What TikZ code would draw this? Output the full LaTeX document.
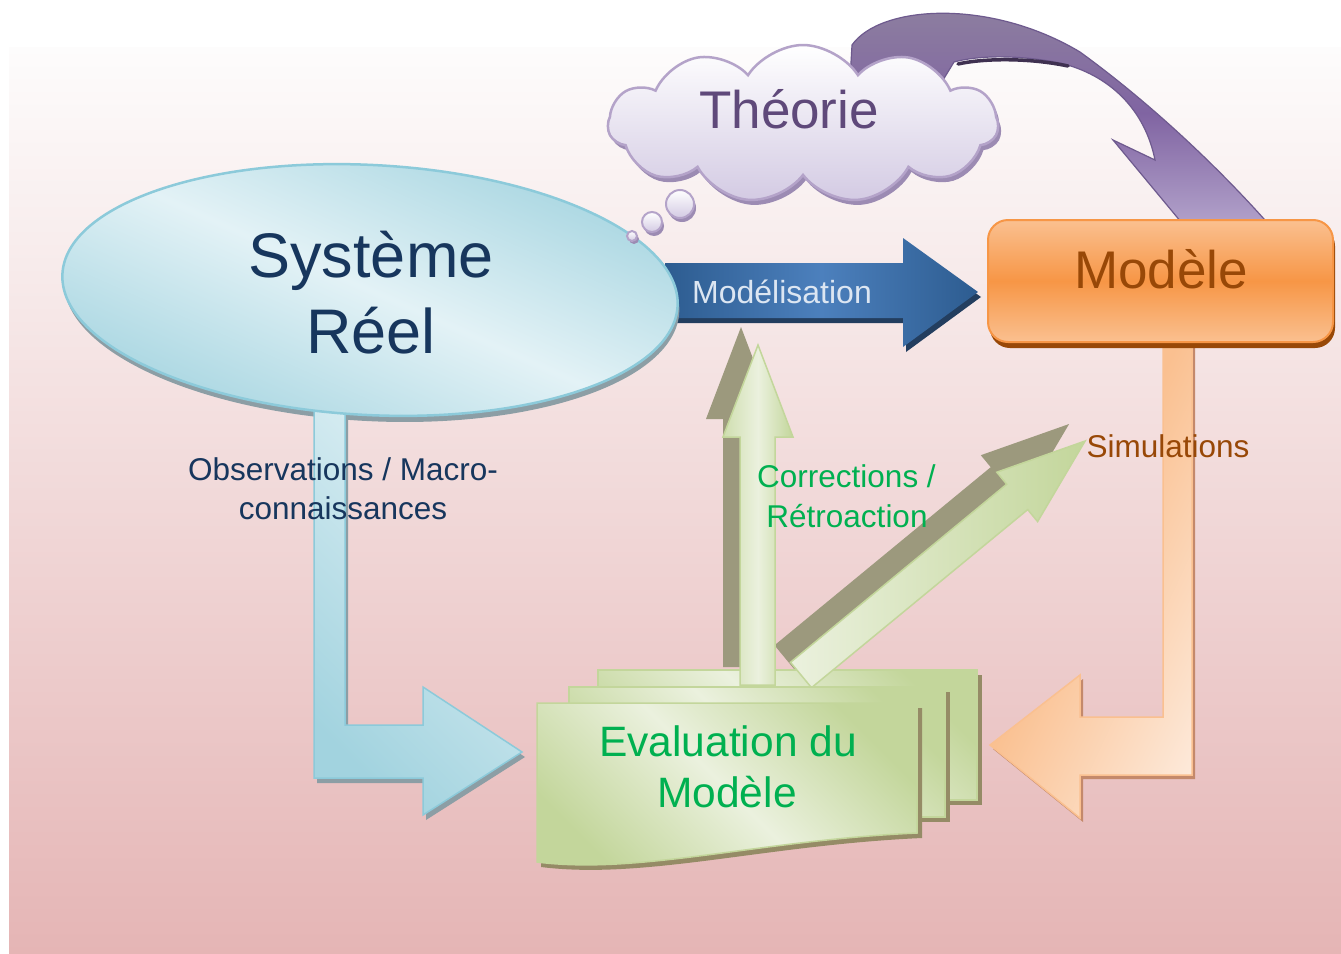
\documentclass[tikz,border=0pt]{standalone}
\usepackage{fontspec}
\setmainfont{Liberation Sans}
\usetikzlibrary{shapes.symbols}
\definecolor{bgtop}{HTML}{FDFCFC}
\definecolor{bgbot}{HTML}{E5B5B5}
\definecolor{purpTop}{HTML}{8E819F}
\definecolor{purpMid}{HTML}{8064A2}
\definecolor{purpBot}{HTML}{B3A3CB}
\definecolor{purpBorder}{HTML}{6E5A8E}
\definecolor{purpDark}{HTML}{3F3151}
\definecolor{blueArrDark}{HTML}{2D5C90}
\definecolor{blueArrLight}{HTML}{4C80BD}
\definecolor{blueArrShadow}{HTML}{233E5F}
\definecolor{ellDark}{HTML}{A2D3DF}
\definecolor{ellLight}{HTML}{E3F2F6}
\definecolor{ellBorder}{HTML}{8CCADA}
\definecolor{ellShadow}{HTML}{8C9EA5}
\definecolor{cloudBot}{HTML}{D3CAE3}
\definecolor{cloudBorder}{HTML}{B4A3C9}
\definecolor{cloudShadow}{HTML}{9C8BB3}
\definecolor{oranDark}{HTML}{FAC090}
\definecolor{oranLight}{HTML}{FDEBDD}
\definecolor{oranShadow}{HTML}{C4896B}
\definecolor{boxLight}{HTML}{FAC090}
\definecolor{boxMid}{HTML}{F79646}
\definecolor{boxShadow}{HTML}{984807}
\definecolor{grnDark}{HTML}{C3D69B}
\definecolor{grnLight}{HTML}{EBF1DE}
\definecolor{grnShadow}{HTML}{958B66}
\definecolor{grnArrShadow}{HTML}{9C997D}
\definecolor{textNavy}{HTML}{17365D}
\definecolor{textPurple}{HTML}{5F497A}
\definecolor{textBrown}{HTML}{984807}
\definecolor{textGreen}{HTML}{00B050}
\definecolor{textModel}{HTML}{DCE6F2}
\begin{document}
\begin{tikzpicture}[x=1pt,y=-1pt,
  txt/.style={inner sep=0pt,outer sep=0pt,anchor=base},
  fs/.style={font=\fontsize{#1}{#1}\selectfont},
  sheet/.style={draw=grnDark,line width=1.5pt,top color=grnDark,bottom color=grnDark,middle color=grnLight,shading angle=-45},
  sheetshadow/.style={fill=grnShadow},
  greenarrow/.style={draw=grnDark,line width=1.5pt},
  bubble/.style={draw=cloudBorder,line width=2pt,top color=white,bottom color=cloudBot},
  bubbleshadow/.style={fill=cloudShadow}]
\useasboundingbox (0,0) rectangle (1341,953);
\fill[white] (0,0) rectangle (1341,953);
\shade[top color=bgtop,bottom color=bgbot] (9,47) rectangle (1341,953);

% purple curved arrow (Theorie -> Modele)
\path[draw=purpBorder,line width=1.2pt,top color=purpTop,bottom color=purpBot,middle color=purpMid]
  (850,80) -- (852,45) .. controls (880,5) and (990,-2) .. (1080,52)
  .. controls (1160,110) and (1230,180) .. (1272,228) -- (1186,228) -- (1113,140) -- (1155,160)
  .. controls (1145,110) and (1110,75) .. (1060,63) .. controls (1020,55) and (980,55) .. (954,62)
  -- (940,85) -- cycle;
\draw[purpDark,line width=3.5pt,line cap=round] (958,64) .. controls (985,58) and (1030,58) .. (1068,66);

% Modelisation arrow
\fill[blueArrShadow] (668,268) -- (906,268) -- (906,243) -- (981,297) -- (906,352) -- (906,323) -- (668,323) -- cycle;
\path[left color=blueArrDark,right color=blueArrDark,middle color=blueArrLight]
  (665,263) -- (903,263) -- (903,238) -- (978,292) -- (903,347) -- (903,318) -- (665,318) -- cycle;

% ellipse shadow
\fill[ellShadow,rotate around={-3:(370,290)}] (372,296) ellipse [x radius=308pt,y radius=125pt];

% blue L arrow
\fill[ellShadow] (317,405) -- (348,405) -- (348,730) -- (426,730) -- (426,692) -- (525,757) -- (426,820) -- (426,783) -- (317,783) -- cycle;
\path[draw=ellBorder,line width=1.5pt,top color=ellLight,bottom color=ellDark,shading angle=-45]
  (314,400) -- (345,400) -- (345,725) -- (423,725) -- (423,687) -- (522,752) -- (423,815) -- (423,778) -- (314,778) -- cycle;

% Systeme reel ellipse
\fill[ellDark,rotate around={-3:(370,290)}] (370,290) ellipse [x radius=308pt,y radius=125pt];
\begin{scope}
  \clip[rotate around={-3:(370,290)}] (370,290) ellipse [x radius=308pt,y radius=125pt];
  \shade[transform canvas={rotate around={-24:(370,290)}},top color=ellDark,bottom color=ellDark,middle color=ellLight]
    (-150,90) rectangle (890,490);
\end{scope}
\draw[ellBorder,line width=2.5pt,rotate around={-3:(370,290)}] (370,290) ellipse [x radius=308pt,y radius=125pt];

% cloud
\node (theoshadow) [cloud,cloud puffs=11,cloud puff arc=115,aspect=2.45,minimum width=390pt,minimum height=158pt,inner sep=0pt,fill=cloudShadow] at (806,129) {};
\node (theo) [cloud,cloud puffs=11,cloud puff arc=115,aspect=2.45,minimum width=390pt,minimum height=158pt,inner sep=0pt,draw=cloudBorder,line width=2.5pt,top color=white,bottom color=cloudBot] at (803,124) {};
\fill[bubbleshadow] (682,208) circle[radius=14pt];
\fill[bubbleshadow] (654,226) circle[radius=10pt];
\fill[bubbleshadow] (634,239) circle[radius=5pt];
\path[bubble] (680,204) circle[radius=14pt];
\path[bubble] (652,222) circle[radius=10pt];
\path[bubble] (632,236) circle[radius=5pt];

% orange return arrow
\fill[oranShadow] (1166,340) -- (1195,340) -- (1195,779) -- (1083,779) -- (1083,822) -- (993,749) -- (1083,679) -- (1083,721) -- (1166,721) -- cycle;
\begin{scope}
  \clip (1163,335) -- (1192,335) -- (1192,775) -- (1080,775) -- (1080,818) -- (990,745) -- (1080,675) -- (1080,717) -- (1163,717) -- cycle;
  \fill[oranDark] (980,320) rectangle (1200,830);
  \shade[transform canvas={rotate around={-25:(990,745)}},left color=oranDark,right color=oranLight] (990,100) rectangle (1192,1400);
  \fill[transform canvas={rotate around={-25:(990,745)}},oranLight] (1191,100) rectangle (1500,1400);
\end{scope}
\draw[oranDark,line width=1.5pt] (1163,335) -- (1192,335) -- (1192,775) -- (1080,775) -- (1080,818) -- (990,745) -- (1080,675) -- (1080,717) -- (1163,717) -- cycle;

% Modele box
\node (modshadow) [rounded corners=20pt,minimum width=345pt,minimum height=122pt,inner sep=0pt,fill=boxShadow] at (1162.5,287) {};
\node (mod) [rounded corners=20pt,minimum width=345pt,minimum height=122pt,inner sep=0pt,draw=boxMid,line width=2pt,top color=boxLight,bottom color=boxLight,middle color=boxMid] at (1160.5,281) {};

% green arrow shadows
\fill[grnArrShadow] (723,667) -- (723,419) -- (706,419) -- (741,327) -- (776,419) -- (758,419) -- (758,667) -- cycle;
\fill[grnArrShadow] (774.5,645.3) -- (990.7,467.2) -- (980.8,455.2) -- (1069.1,424) -- (1021.6,504.6) -- (1011.7,492.6) -- (795.5,670.7) -- cycle;

% back sheet
\fill[sheetshadow] (602,675) rectangle (982,805);
\path[sheet] (598,670) rectangle (977,800);

% green arrows
\path[greenarrow,left color=grnDark!80!white,right color=grnDark,middle color=grnLight]
  (740,685) -- (740,437) -- (723,437) -- (758,345) -- (793,437) -- (775,437) -- (775,685) -- cycle;
\path[greenarrow,left color=grnLight,right color=grnDark]
  (790.5,662.3) -- (1006.7,484.2) -- (996.8,472.2) -- (1085.1,441) -- (1037.6,521.6) -- (1027.7,509.6) -- (811.5,687.7) -- cycle;

% middle and front sheets
\fill[sheetshadow] (573,692) rectangle (950,822);
\path[sheet] (569,687) rectangle (945,817);
\fill[sheetshadow] (541,708) -- (922,708) -- (922,838) .. controls (765,845) and (645,880) .. (541,867) -- cycle;
\path[sheet] (537,703) -- (917,703) -- (917,833) .. controls (760,840) and (640,875) .. (537,862) -- cycle;

% texts
\node[txt,fs=63,text=textNavy] (t1) at (371,277) {Système};
\node[txt,fs=63,text=textNavy] (t2) at (371,353) {Réel};
\node[txt,fs=53,text=textPurple] (t3) at (789,128) {Théorie};
\node[txt,fs=32,text=textModel] (t4) at (782,303) {Modélisation};
\node[txt,fs=53,text=textBrown] (t5) at (1161,288) {Modèle};
\node[txt,fs=31.5,text=textBrown] (t6) at (1168,457) {Simulations};
\node[txt,fs=31.5,text=textNavy] (t7) at (343,480) {Observations / Macro-};
\node[txt,fs=31.5,text=textNavy] (t8) at (343,519) {connaissances};
\node[txt,fs=31.5,text=textGreen] (t9) at (846.5,487) {Corrections /};
\node[txt,fs=31.5,text=textGreen] (t10) at (847,527) {Rétroaction};
\node[txt,fs=42.5,text=textGreen] (t11) at (728,756) {Evaluation du};
\node[txt,fs=42.5,text=textGreen] (t12) at (727,807) {Modèle};
\end{tikzpicture}
\end{document}
